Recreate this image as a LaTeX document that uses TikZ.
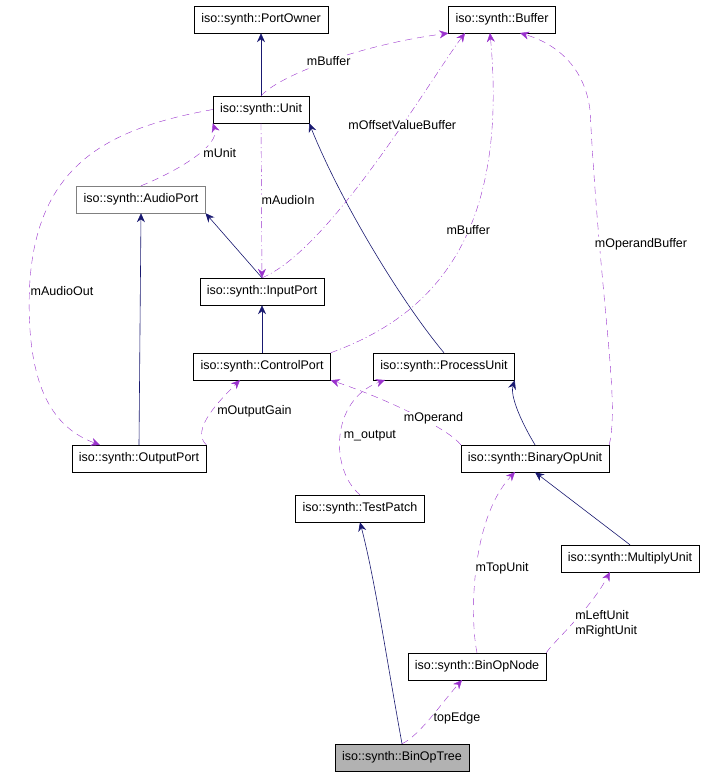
\documentclass[tikz,border=0pt]{standalone}
\usepackage{fontspec}
\setmainfont{Liberation Sans}
\usetikzlibrary{arrows.meta}

\begin{document}
\begin{tikzpicture}[x=1pt,y=-1pt,>={Stealth[length=9pt,width=8pt]}]
  \fontsize{12.5}{14.5}\selectfont
  \useasboundingbox (0,0) rectangle (713,776);
  \tikzset{
    cls/.style={draw=black,fill=white,minimum height=27pt,inner xsep=7pt,inner ysep=0pt},
    inh/.style={->,draw={rgb,255:red,25;green,25;blue,112},semithick},
    use/.style={->,draw={rgb,255:red,154;green,50;blue,205},dash pattern=on 7pt off 5pt},
    lbl/.style={fill=white,inner sep=1pt}
  }
  % クラス
  \node[cls] (owner) at (261,19.5) {iso::synth::PortOwner};
  \node[cls] (buf) at (502,19.5) {iso::synth::Buffer};
  \node[cls] (unit) at (261,109.5) {iso::synth::Unit};
  \node[cls,draw=gray] (aport) at (141,199.5) {iso::synth::AudioPort};
  \node[cls] (iport) at (262,291.5) {iso::synth::InputPort};
  \node[cls] (cport) at (262,366.5) {iso::synth::ControlPort};
  \node[cls] (punit) at (444,366.5) {iso::synth::ProcessUnit};
  \node[cls] (oport) at (139,458.5) {iso::synth::OutputPort};
  \node[cls] (bunit) at (535,458.5) {iso::synth::BinaryOpUnit};
  \node[cls] (patch) at (360,508.5) {iso::synth::TestPatch};
  \node[cls] (munit) at (630,558.5) {iso::synth::MultiplyUnit};
  \node[cls] (bnode) at (477,666.5) {iso::synth::BinOpNode};
  \node[cls,fill=gray!60] (tree) at (402,757.5) {iso::synth::BinOpTree};

  % 継承
  \draw[inh] (unit) -- (owner);
  \draw[inh] (iport.north) -- (aport.south east);
  \draw[inh] (oport.north) -- (aport.south);
  \draw[inh] (cport) -- (iport);
  \draw[inh] (punit.north) .. controls (400,300) and (340,200) .. (unit.south east);
  \draw[inh] (bunit.north) .. controls (520,420) and (510,395) .. (punit.south east);
  \draw[inh] (munit.north) -- (bunit.south);
  \draw[inh] (tree.north) .. controls (385,650) and (375,580) .. (patch.south);

  % 参照
  \draw[use] (unit.north) .. controls (280,75) and (360,45) .. (buf.south west)
    node[lbl,pos=0.5] {mBuffer};
  \draw[use] (aport.north) .. controls (180,170) and (220,145) .. (unit.south west)
    node[lbl,pos=0.55,right=4pt] {mUnit};
  \draw[use,dash pattern=on 7pt off 3pt on 1pt off 3pt] (unit.south) -- (iport.north)
    node[lbl,pos=0.5,right=-1pt] {mAudioIn};
  \draw[use,dash pattern=on 7pt off 3pt on 1pt off 3pt] (iport.north) .. controls (330,250) and (430,80) .. (465,33)
    node[lbl,pos=0.62] {mOffsetValueBuffer};
  \draw[use,dash pattern=on 7pt off 3pt on 1pt off 3pt] (cport.north east) .. controls (420,320) and (510,250) .. (490,33)
    node[lbl,pos=0.6] {mBuffer};
  \draw[use] (unit.west) .. controls (100,130) and (20,170) .. (30,330) .. controls (35,400) and (60,430) .. (100,445);
  \node[lbl] (aolbl) at (62,291) {mAudioOut};
  \draw[use] (oport.north east) .. controls (190,430) and (220,400) .. (240,380)
    node[lbl,pos=0.55,right=4pt] {mOutputGain};
  \draw[use] (bunit.north west) .. controls (450,430) and (390,400) .. (cport.south east)
    node[lbl,pos=0.35,above=-1pt] {mOperand};
  \draw[use] (patch.north) .. controls (330,470) and (330,400) .. (385,380)
    node[lbl,pos=0.5,right=2pt] {m\_output};
  \draw[use] (bunit.north east) .. controls (620,400) and (600,300) .. (590,110) .. controls (585,70) and (560,45) .. (520,33);
  \node[lbl] (oblbl) at (641,244) {mOperandBuffer};
  \draw[use] (bnode.north) .. controls (470,620) and (470,520) .. (515,472)
    node[lbl,pos=0.5,right=-2pt] {mTopUnit};
  \draw[use] (bnode.north east) .. controls (550,645) and (590,610) .. (610,572)
    node[lbl,pos=0.5,right=2pt,align=left] {mLeftUnit\\mRightUnit};
  \draw[use] (tree.north) .. controls (420,735) and (440,705) .. (462,680)
    node[lbl,pos=0.5,right=2pt] {topEdge};
\end{tikzpicture}
\end{document}
